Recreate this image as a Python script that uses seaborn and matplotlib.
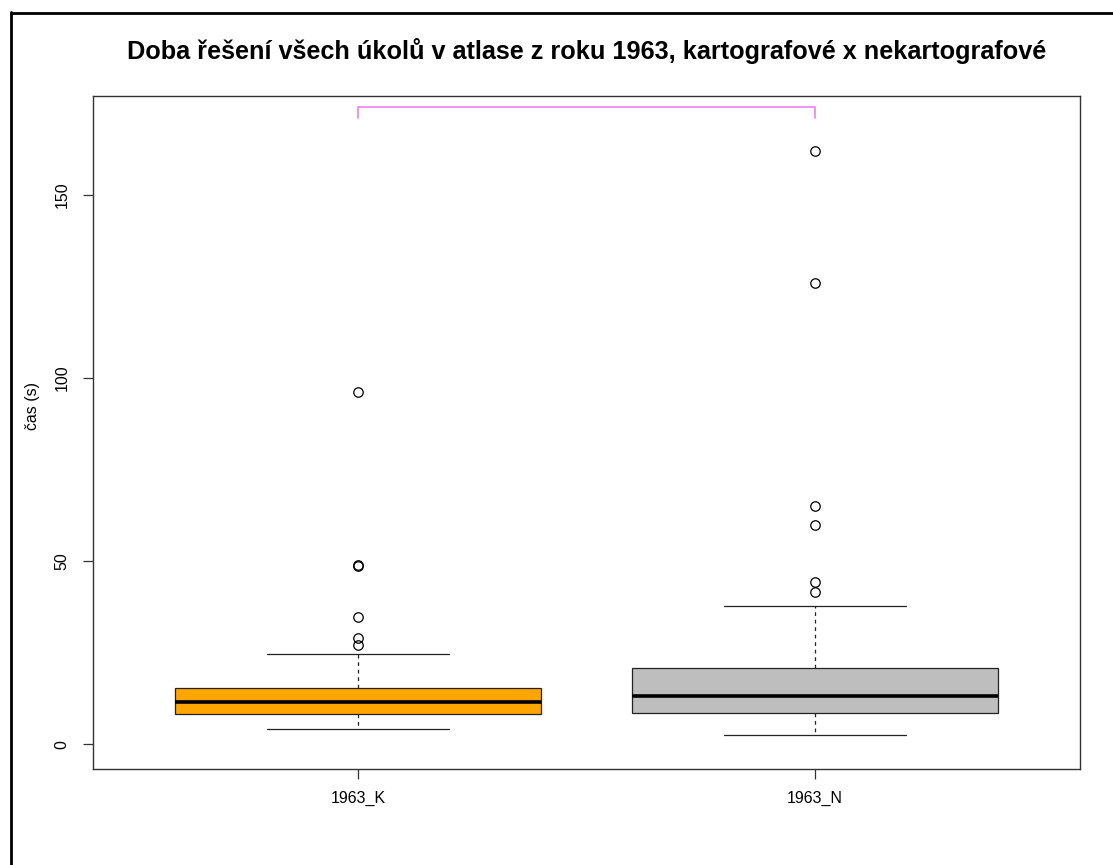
import numpy as np
import pandas as pd
import matplotlib
matplotlib.use('Agg')
import matplotlib.pyplot as plt
from matplotlib.lines import Line2D
import seaborn as sns

# Groups and box colours
groups = ['1963_K', '1963_N']
colors = ['orange', '#bebebe']

times_k = [4.1, 5.0, 5.8, 6.5, 7.0, 7.6, 8.0, 8.3, 9.0, 9.5, 10.0, 10.4, 10.9, 11.2, 11.6,
           12.2, 12.8, 13.4, 14.0, 14.6, 15.1, 15.5, 24.7, 27.1, 29.0, 34.9, 48.8, 49.0, 96.2]
times_n = [2.5, 4.0, 5.2, 6.1, 7.0, 7.8, 8.3, 8.7, 9.4, 10.1, 10.9, 11.6, 12.2, 12.8, 13.3,
           14.2, 15.3, 16.4, 17.6, 18.8, 19.9, 20.8, 37.9, 41.7, 44.4, 59.9, 65.0, 125.9, 161.9]

# Comparison bracket at the top
bracket_y = 173.8
bracket_drop = 2.8

title = 'Doba řešení všech úkolů v atlase z roku 1963, kartografové x nekartografové'

df = pd.DataFrame({
    'skupina': [groups[0]] * len(times_k) + [groups[1]] * len(times_n),
    'cas': times_k + times_n,
})

sns.set_style('white')
plt.rcParams['font.family'] = ['Liberation Sans', 'DejaVu Sans']
plt.rcParams['text.color'] = 'black'
plt.rcParams['axes.labelcolor'] = 'black'
plt.rcParams['xtick.labelcolor'] = 'black'
plt.rcParams['ytick.labelcolor'] = 'black'

W, H = 1113, 865
fig = plt.figure(figsize=(W / 100, H / 100), dpi=100)
ax = fig.add_axes([93 / W, 1 - 769 / H, (1080 - 93) / W, (769 - 96) / H])

sns.boxplot(data=df, x='skupina', y='cas', hue='skupina', palette=colors, saturation=1,
            width=0.8, whis=1.5, linecolor='#222222', linewidth=0.9, legend=False, ax=ax,
            medianprops=dict(color='black', linewidth=2.6),
            whiskerprops=dict(linestyle=(0, (3, 3))),
            flierprops=dict(marker='o', markerfacecolor='none', markeredgecolor='black',
                            markersize=6.8, markeredgewidth=0.9))

# Bracket between the two groups
ax.plot([0, 0, 1, 1], [bracket_y - bracket_drop, bracket_y, bracket_y, bracket_y - bracket_drop],
        color='violet', lw=1.2, clip_on=False)

ax.set_xlim(-0.58, 1.58)
ax.set_ylim(-6.7, 176.9)
ax.set_yticks([0, 50, 100, 150])
ax.set_xlabel('')
ax.set_ylabel('čas (s)', fontsize=11.5)
ax.yaxis.set_label_coords(-0.054, 0.54)
ax.tick_params(axis='both', direction='out', length=7, width=0.9, color='#333333',
               labelsize=11.5, left=True, bottom=True)
ax.tick_params(axis='y', labelrotation=90, pad=10)
ax.tick_params(axis='x', pad=9)
for lab in ax.get_yticklabels():
    lab.set_va('center')
for s in ax.spines.values():
    s.set_visible(True)
    s.set_color('#333333')
    s.set_linewidth(1)

fig.text(586.5 / W, 1 - 51 / H, title, ha='center', va='center', fontsize=18.2,
         fontweight='bold', color='black')

# Outer frame, left and top edges only
fig.add_artist(Line2D([10.5 / W, 10.5 / W], [0, 1 - 12 / H], color='black', lw=2))
fig.add_artist(Line2D([10.5 / W, 1], [1 - 13 / H, 1 - 13 / H], color='black', lw=2))

fig.savefig('out.png', dpi=100)
